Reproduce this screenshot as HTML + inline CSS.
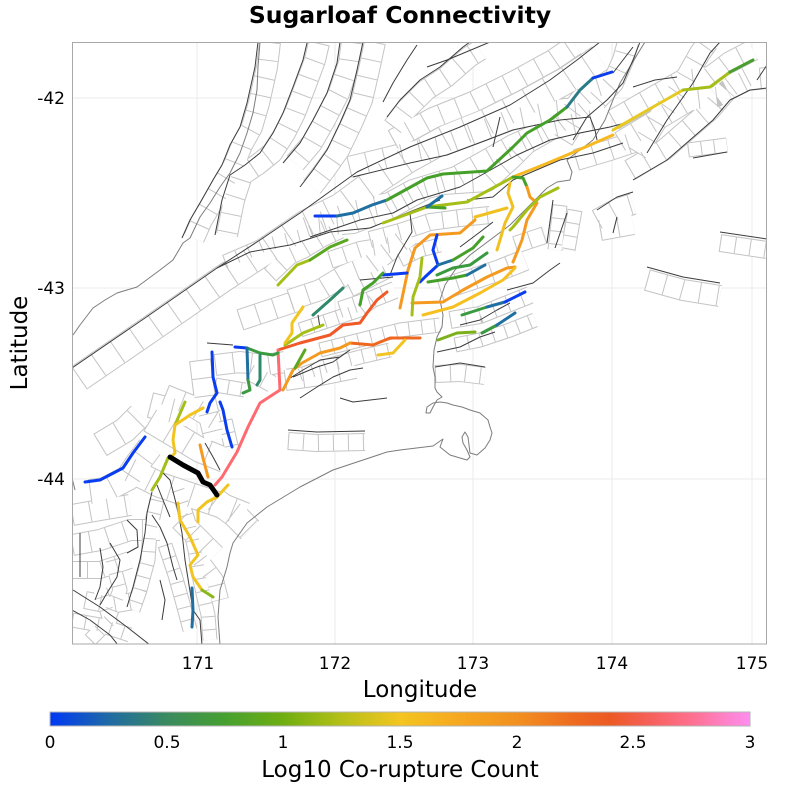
<!DOCTYPE html>
<html><head><meta charset="utf-8"><style>
html,body{margin:0;padding:0;background:#fff;}
svg{display:block;}
text{font-family:"DejaVu Sans","Liberation Sans",sans-serif;fill:#000;}
.lo{fill:none;stroke:#c4c4c4;stroke-linejoin:round;}
.li{fill:none;stroke:#fff;stroke-linejoin:round;}
.lr{fill:none;stroke:#c4c4c4;stroke-linejoin:round;}
.f{fill:none;stroke:#3c3c3c;stroke-width:1;stroke-linejoin:round;}
.cst{fill:none;stroke:#7c7c7c;stroke-width:1;stroke-linejoin:round;}
.c{fill:none;stroke-width:3;stroke-linecap:round;stroke-linejoin:round;}
</style></head><body>
<svg width="800" height="792" viewBox="0 0 800 792" xmlns="http://www.w3.org/2000/svg">
<defs>
<clipPath id="pc"><rect x="72" y="42" width="695" height="602"/></clipPath>
<linearGradient id="cb" x1="0" y1="0" x2="1" y2="0">
<stop offset="0" stop-color="#0038f5"/>
<stop offset="0.083" stop-color="#1f6aa5"/>
<stop offset="0.167" stop-color="#3a8a5f"/>
<stop offset="0.25" stop-color="#46a030"/>
<stop offset="0.333" stop-color="#6fae10"/>
<stop offset="0.417" stop-color="#b5c018"/>
<stop offset="0.5" stop-color="#f4c520"/>
<stop offset="0.583" stop-color="#f6a820"/>
<stop offset="0.667" stop-color="#f29020"/>
<stop offset="0.75" stop-color="#ee6a20"/>
<stop offset="0.8" stop-color="#ec5a24"/>
<stop offset="0.85" stop-color="#f55f55"/>
<stop offset="0.917" stop-color="#ff7090"/>
<stop offset="1" stop-color="#ff8ef0"/>
</linearGradient>
</defs>

<text x="400" y="23" text-anchor="middle" font-size="23.5" font-weight="bold">Sugarloaf Connectivity</text>

<!-- grid -->
<g stroke="#ebebeb" stroke-width="1">
<line x1="197" y1="42" x2="197" y2="644"/><line x1="335" y1="42" x2="335" y2="644"/>
<line x1="473" y1="42" x2="473" y2="644"/><line x1="612" y1="42" x2="612" y2="644"/>
<line x1="752" y1="42" x2="752" y2="644"/>
<line x1="72" y1="98" x2="767" y2="98"/><line x1="72" y1="288" x2="767" y2="288"/>
<line x1="72" y1="479" x2="767" y2="479"/>
</g>

<g clip-path="url(#pc)">
<!-- ===== ladders: outer ===== -->
<g class="lo">
<path stroke-width="28" d="M79,378 L152,328 L224,278 L267,250 L307,223 L340,207 L374,182 L407,160 L447,138 L487,122 L527,102 L567,80 L600,58"/>
<path stroke-width="26" d="M90,492 L105,490 L128,478 L138,463 L150,447 M150,420 L175,435 L200,450 L225,460 M130,470 L160,485 L190,495 L220,505 L245,515 M150,405 L190,415 M100,445 L125,430 L140,415 M215,500 L235,515 L250,530"/>
<path stroke-width="22" d="M270,42 L267,67 L259,103 L252,127 L242,145 L234,165 L225,180 L212,203 L202,220 L194,238 M319,43 L315,60 L305,87 L295,113 L285,133 L272,153 L257,165 L242,175 L234,200 L227,235 M352,42 L349,63 L339,93 L325,120 L312,143 L295,163 M375,42 L369,70 L362,100 L352,123 L339,150 L325,170 L312,187 M393,127 L406,110 L426,90 L446,77 L469,57 L480,50 M349,167 L406,153 L443,145 L483,130 L509,120 L556,110 L586,107 M306,227 L356,210 L389,203 L413,190 L456,177 L483,162 L513,145 L546,130 L576,123 L606,117 M319,226 L353,223 L387,210 L427,188 L443,184 L487,181 L513,157 L527,143 L550,130 L567,117 L580,100 L593,88 L612,82 M393,140 L433,118 L473,102 L513,82 L553,60 L575,45 M613,120 L653,97 L683,80 L710,77 L730,62 L753,50 M620,142 L660,118 L690,100 L717,97 L737,82 L760,70 M637,153 L657,120 L683,83 L700,53 L708,42 M630,170 L664,150 L687,130 L710,110 L727,90 L747,80 L767,78 M563,140 L577,117 L597,100 L613,83 L623,60 L628,42 M647,280 L683,290 L720,296 M597,220 L617,209 L633,204 M600,230 L633,224 M290,300 L320,290 L345,275 L370,265 L390,250 L410,235 M440,290 L470,280 L500,270 L525,260 M240,320 L270,310 L300,300 M200,360 L205,400 L215,440 M215,365 L240,362 L265,365 L285,362 M72,545 L100,540 L130,530 L160,530 M165,395 L190,405 L215,420 M180,520 L200,540 L215,555 M576,160 L610,150 L640,140 M72,515 L100,510 L130,505 M285,380 L320,375 L355,368"/>
<path stroke-width="18" d="M720,243 L767,250 M270,275 L290,256 L303,250 L323,238 L340,230 M450,320 L480,315 L505,305 L530,295 M370,240 L400,232 L430,222 L460,218 L490,215 M330,260 L360,250 L390,245 M288,441 L317,443 L365,442 M72,570 L100,570 L130,560 M85,600 L110,605 L140,600 M435,374 L460,373 L485,376 M250,372 L272,384 M515,245 L545,235 M200,560 L215,580 L220,600 M340,310 L370,300 L395,290"/>
<path stroke-width="15" d="M688,150 L727,145 M560,205 L555,250 M575,210 L568,250 M225,262 L262,246 L300,236 L330,224 M300,330 L330,320 L360,310 L380,295 M320,350 L360,340 L400,330 L440,325 M300,375 L330,365 L360,357 L390,350 M455,345 L480,340 L510,330 L535,320 M400,260 L420,250 L440,245 M350,290 L370,280 L390,270 M215,385 L245,390 M225,420 L232,450 M72,620 L100,625 L130,635 M157,500 L150,530 L148,560 L140,590 L133,610 M178,490 L188,520 L195,550 L200,580 L208,615 L210,640 M165,545 L175,575 L182,600 L190,630 M90,640 L110,620 L100,590 M112,560 L120,590 L110,615"/>
</g>
<!-- inner -->
<g class="li">
<path stroke-width="26" d="M79,378 L152,328 L224,278 L267,250 L307,223 L340,207 L374,182 L407,160 L447,138 L487,122 L527,102 L567,80 L600,58"/>
<path stroke-width="24" d="M90,492 L105,490 L128,478 L138,463 L150,447 M150,420 L175,435 L200,450 L225,460 M130,470 L160,485 L190,495 L220,505 L245,515 M150,405 L190,415 M100,445 L125,430 L140,415 M215,500 L235,515 L250,530"/>
<path stroke-width="20" d="M270,42 L267,67 L259,103 L252,127 L242,145 L234,165 L225,180 L212,203 L202,220 L194,238 M319,43 L315,60 L305,87 L295,113 L285,133 L272,153 L257,165 L242,175 L234,200 L227,235 M352,42 L349,63 L339,93 L325,120 L312,143 L295,163 M375,42 L369,70 L362,100 L352,123 L339,150 L325,170 L312,187 M393,127 L406,110 L426,90 L446,77 L469,57 L480,50 M349,167 L406,153 L443,145 L483,130 L509,120 L556,110 L586,107 M306,227 L356,210 L389,203 L413,190 L456,177 L483,162 L513,145 L546,130 L576,123 L606,117 M319,226 L353,223 L387,210 L427,188 L443,184 L487,181 L513,157 L527,143 L550,130 L567,117 L580,100 L593,88 L612,82 M393,140 L433,118 L473,102 L513,82 L553,60 L575,45 M613,120 L653,97 L683,80 L710,77 L730,62 L753,50 M620,142 L660,118 L690,100 L717,97 L737,82 L760,70 M637,153 L657,120 L683,83 L700,53 L708,42 M630,170 L664,150 L687,130 L710,110 L727,90 L747,80 L767,78 M563,140 L577,117 L597,100 L613,83 L623,60 L628,42 M647,280 L683,290 L720,296 M597,220 L617,209 L633,204 M600,230 L633,224 M290,300 L320,290 L345,275 L370,265 L390,250 L410,235 M440,290 L470,280 L500,270 L525,260 M240,320 L270,310 L300,300 M200,360 L205,400 L215,440 M215,365 L240,362 L265,365 L285,362 M72,545 L100,540 L130,530 L160,530 M165,395 L190,405 L215,420 M180,520 L200,540 L215,555 M576,160 L610,150 L640,140 M72,515 L100,510 L130,505 M285,380 L320,375 L355,368"/>
<path stroke-width="16" d="M720,243 L767,250 M270,275 L290,256 L303,250 L323,238 L340,230 M450,320 L480,315 L505,305 L530,295 M370,240 L400,232 L430,222 L460,218 L490,215 M330,260 L360,250 L390,245 M288,441 L317,443 L365,442 M72,570 L100,570 L130,560 M85,600 L110,605 L140,600 M435,374 L460,373 L485,376 M250,372 L272,384 M515,245 L545,235 M200,560 L215,580 L220,600 M340,310 L370,300 L395,290"/>
<path stroke-width="13" d="M688,150 L727,145 M560,205 L555,250 M575,210 L568,250 M225,262 L262,246 L300,236 L330,224 M300,330 L330,320 L360,310 L380,295 M320,350 L360,340 L400,330 L440,325 M300,375 L330,365 L360,357 L390,350 M455,345 L480,340 L510,330 L535,320 M400,260 L420,250 L440,245 M350,290 L370,280 L390,270 M215,385 L245,390 M225,420 L232,450 M72,620 L100,625 L130,635 M157,500 L150,530 L148,560 L140,590 L133,610 M178,490 L188,520 L195,550 L200,580 L208,615 L210,640 M165,545 L175,575 L182,600 L190,630 M90,640 L110,620 L100,590 M112,560 L120,590 L110,615"/>
</g>
<!-- rungs -->
<g class="lr">
<path stroke-width="26" stroke-dasharray="1 22" d="M79,378 L152,328 L224,278 L267,250 L307,223 L340,207 L374,182 L407,160 L447,138 L487,122 L527,102 L567,80 L600,58"/>
<path stroke-width="24" stroke-dasharray="1 21" d="M90,492 L105,490 L128,478 L138,463 L150,447 M150,420 L175,435 L200,450 L225,460 M130,470 L160,485 L190,495 L220,505 L245,515 M150,405 L190,415 M100,445 L125,430 L140,415 M215,500 L235,515 L250,530"/>
<path stroke-width="20" stroke-dasharray="1 17" d="M270,42 L267,67 L259,103 L252,127 L242,145 L234,165 L225,180 L212,203 L202,220 L194,238 M319,43 L315,60 L305,87 L295,113 L285,133 L272,153 L257,165 L242,175 L234,200 L227,235 M352,42 L349,63 L339,93 L325,120 L312,143 L295,163 M375,42 L369,70 L362,100 L352,123 L339,150 L325,170 L312,187 M393,127 L406,110 L426,90 L446,77 L469,57 L480,50 M349,167 L406,153 L443,145 L483,130 L509,120 L556,110 L586,107 M306,227 L356,210 L389,203 L413,190 L456,177 L483,162 L513,145 L546,130 L576,123 L606,117 M319,226 L353,223 L387,210 L427,188 L443,184 L487,181 L513,157 L527,143 L550,130 L567,117 L580,100 L593,88 L612,82 M393,140 L433,118 L473,102 L513,82 L553,60 L575,45 M613,120 L653,97 L683,80 L710,77 L730,62 L753,50 M620,142 L660,118 L690,100 L717,97 L737,82 L760,70 M637,153 L657,120 L683,83 L700,53 L708,42 M630,170 L664,150 L687,130 L710,110 L727,90 L747,80 L767,78 M563,140 L577,117 L597,100 L613,83 L623,60 L628,42 M647,280 L683,290 L720,296 M597,220 L617,209 L633,204 M600,230 L633,224 M290,300 L320,290 L345,275 L370,265 L390,250 L410,235 M440,290 L470,280 L500,270 L525,260 M240,320 L270,310 L300,300 M200,360 L205,400 L215,440 M215,365 L240,362 L265,365 L285,362 M72,545 L100,540 L130,530 L160,530 M165,395 L190,405 L215,420 M180,520 L200,540 L215,555 M576,160 L610,150 L640,140 M72,515 L100,510 L130,505 M285,380 L320,375 L355,368"/>
<path stroke-width="16" stroke-dasharray="1 14" d="M720,243 L767,250 M270,275 L290,256 L303,250 L323,238 L340,230 M450,320 L480,315 L505,305 L530,295 M370,240 L400,232 L430,222 L460,218 L490,215 M330,260 L360,250 L390,245 M288,441 L317,443 L365,442 M72,570 L100,570 L130,560 M85,600 L110,605 L140,600 M435,374 L460,373 L485,376 M250,372 L272,384 M515,245 L545,235 M200,560 L215,580 L220,600 M340,310 L370,300 L395,290"/>
<path stroke-width="13" stroke-dasharray="1 12" d="M688,150 L727,145 M560,205 L555,250 M575,210 L568,250 M225,262 L262,246 L300,236 L330,224 M300,330 L330,320 L360,310 L380,295 M320,350 L360,340 L400,330 L440,325 M300,375 L330,365 L360,357 L390,350 M455,345 L480,340 L510,330 L535,320 M400,260 L420,250 L440,245 M350,290 L370,280 L390,270 M215,385 L245,390 M225,420 L232,450 M72,620 L100,625 L130,635 M157,500 L150,530 L148,560 L140,590 L133,610 M178,490 L188,520 L195,550 L200,580 L208,615 L210,640 M165,545 L175,575 L182,600 L190,630 M90,640 L110,620 L100,590 M112,560 L120,590 L110,615"/>
</g>

<!-- ===== coastline ===== -->
<path class="cst" d="M73,335 L80,325 L93,308 L105,300 L117,293 L137,287 L160,270 L173,260 L183,243 L190,238 L200,217 L210,203 L220,187 L230,173 L240,153 L247,133 L253,113 L257,90 L258,67 L260,42"/>
<path class="cst" d="M220,645 L218,617 L220,590 L227,567 L230,553 L233,543 L247,523 L267,507 L300,487 L333,470 L387,452 L400,450 L433,446 L443,439 L440,447 L450,455 L460,458 L467,460 L470,457 L467,450 L463,443 L462,437 L465,432 L468,437 L470,453 L477,455 L485,448 L490,440 L492,433 L490,427 L488,420 L480,413 L470,410 L462,407 L453,405 L447,403 L440,402 L433,403 L427,407 L426,413 L430,413 L433,407 L437,400 L442,397 L437,392 L435,388 L435,377 L433,367 L434,350 L437,337 L442,327 L443,315 L440,300 L445,285 L455,270 L470,255 L490,240 L510,225 L530,205 L547,188 L557,182 L570,180 L572,172 L567,160 L580,150 L593,140 L605,120 L613,100 L620,83 L640,50 L645,42"/>
<path class="cst" d="M72,478 L75,490"/>

<!-- ===== dark fault traces ===== -->
<g class="f">
<path d="M72,368 L145,318 L217,268 L260,240 L300,213 L357,172 L410,147 L460,127 L510,105 L550,80 L577,60 L600,42"/>
<path d="M258,42 L255,67 L247,103 L240,127 L230,145 L222,165 L213,180 L200,203 L190,220 L182,238"/>
<path d="M307,43 L303,60 L293,87 L283,113 L273,133 L260,153 L245,165 L230,175 L222,200 L215,235"/>
<path d="M340,42 L337,63 L327,93 L313,120 L300,143 L283,163"/>
<path d="M363,42 L357,70 L350,100 L340,123 L327,150 L313,170 L300,187"/>
<path d="M383,102 L393,83 L407,60 L417,45"/>
<path d="M387,117 L400,100 L420,80 L440,67 L463,47 L470,42"/>
<path d="M427,67 L447,60 L490,42"/>
<path d="M353,177 L410,163 L447,155 L487,140 L513,130 L560,120 L590,117 L595,130 L597,140"/>
<path d="M217,268 L250,252 L290,245 L330,232 L370,228 L407,213 L440,200"/>
<path d="M310,237 L360,220 L393,213 L417,200 L460,187 L487,172 L517,155 L550,140 L580,133 L610,127 L625,123"/>
<path d="M467,200 L493,197 L513,180 L560,160 L593,153 L623,143"/>
<path d="M493,147 L500,117"/>
<path d="M573,140 L587,117 L607,100 L623,83 L633,60 L640,42"/>
<path d="M613,73 L633,47"/>
<path d="M633,87 L655,80 L677,77"/>
<path d="M647,153 L667,120 L693,83 L710,53 L720,42"/>
<path d="M633,180 L667,160 L690,140 L713,120 L730,100 L750,90 L767,88"/>
<path d="M757,80 L767,65"/>
<path d="M597,210 L617,197 L633,192"/>
<path d="M613,233 L617,217"/>
<path d="M647,267 L683,277 L720,283"/>
<path d="M720,232 L767,239"/>
<path d="M693,158 L727,152"/>
<path d="M553,200 L547,243"/>
<path d="M567,213 L555,248"/>
<path d="M410,213 L412,232 L397,257 L390,275"/>
<path d="M360,280 L393,277"/>
<path d="M460,247 L480,232 L493,222"/>
<path d="M507,290 L533,283 L550,270 L560,263"/>
<path d="M460,325 L480,320 L497,310 L510,303"/>
<path d="M437,352 L460,347 L480,337 L495,332"/>
<path d="M435,367 L460,363 L485,367"/>
<path d="M287,380 L303,370 L320,360 L340,357 L350,350"/>
<path d="M300,398 L317,387 L333,377 L350,370 L363,368"/>
<path d="M293,377 L317,367 L333,362 L347,352"/>
<path d="M318,315 L320,328"/>
<path d="M207,343 L233,345"/>
<path d="M340,398 L353,402 L387,398"/>
<path d="M288,430 L317,432 L365,431"/>
<path d="M205,443 L213,457 L220,470"/>
<path d="M152,492 L147,513 L145,533 L140,560 L133,587 L127,607"/>
<path d="M157,485 L163,500 L170,517"/>
<path d="M163,473 L170,480 L177,507 L182,533 L185,560 L193,610 L200,620 L202,645"/>
<path d="M152,515 L160,527 L167,543 L173,567 L177,580"/>
<path d="M127,520 L137,530 L138,547 L127,553"/>
<path d="M110,543 L120,560 L117,577 L107,593 L100,605"/>
<path d="M80,533 L80,577"/>
<path d="M100,548 L103,567 L100,587 L95,600"/>
<path d="M73,590 L100,607 L127,627 L150,645"/>
<path d="M160,580 L165,600 L162,620"/>
<path d="M72,610 L90,620 L110,635 L118,645"/>
</g>

<!-- ===== coloured ruptures ===== -->
<g class="c">
<path stroke="#0a3cf0" d="M315,216 L337,216"/>
<path stroke="#1f6fa0" d="M337,216 L353,213 L372,205 L387,200"/>
<path stroke="#45a02a" d="M387,200 L427,178 L443,174 L487,171 L513,147 L527,133 L550,120 L567,107"/>
<path stroke="#2a7a88" d="M567,107 L580,90 L593,78"/>
<path stroke="#0a3cf0" d="M593,78 L612,72"/>

<path stroke="#a6be18" d="M383,223 L427,207 L467,202 L513,177"/>
<path stroke="#f8b820" d="M513,177 L543,165 L567,155 L613,135"/>
<path stroke="#e6c820" d="M613,130 L653,107 L683,90"/>
<path stroke="#a6be18" d="M683,90 L710,87 L730,72"/>
<path stroke="#4a9e30" d="M730,72 L753,60"/>

<path stroke="#45a02a" d="M427,207 L445,208"/>
<path stroke="#1f6fa0" d="M427,207 L442,196"/>

<path stroke="#a6be18" d="M278,285 L297,265 L310,260"/>
<path stroke="#5aa820" d="M310,260 L330,247 L347,240"/>

<path stroke="#f59a20" d="M400,308 L408,270 L415,248 L430,235 L460,233 L475,220"/>
<path stroke="#f0c020" d="M475,217 L507,208"/>
<path stroke="#f0c020" d="M510,183 L508,193 L513,207 L505,223 L500,240 L497,250"/>
<path stroke="#45a02a" d="M513,177 L523,178 L527,187"/>
<path stroke="#f59a20" d="M527,187 L530,197 L537,203 L527,220 L522,240 L518,250 L513,262"/>
<path stroke="#a6be18" d="M558,188 L540,197 L527,210 L513,227 L510,230"/>

<path stroke="#0a3cf0" d="M437,235 L433,250 L438,265 L425,277 L420,282"/>
<path stroke="#0a3cf0" d="M383,275 L407,273"/>
<path stroke="#1f6fa0" d="M438,265 L453,260"/>
<path stroke="#45a02a" d="M453,260 L473,248 L483,237"/>
<path stroke="#3a9a40" d="M437,275 L453,268 L470,265 L487,253"/>
<path stroke="#45a02a" d="M428,282 L453,278 L467,275"/>
<path stroke="#1f6fa0" d="M467,275 L485,265"/>
<path stroke="#f59a20" d="M412,303 L443,302 L463,290 L487,277 L507,268 L515,267"/>
<path stroke="#f6c020" d="M423,315 L453,307 L480,293 L503,280 L515,268"/>
<path stroke="#a6be18" d="M422,258 L420,277 L413,297 L412,315"/>
<path stroke="#3a9a40" d="M462,315 L487,307"/>
<path stroke="#1f6fa0" d="M487,307 L505,302"/>
<path stroke="#0a3cf0" d="M505,302 L525,292"/>
<path stroke="#3a9a40" d="M482,333 L497,325"/>
<path stroke="#1f6fa0" d="M497,325 L515,313"/>
<path stroke="#7ab018" d="M438,340 L457,333 L475,332"/>

<path stroke="#45a02a" d="M360,305 L363,290 L373,283 L383,273"/>
<path stroke="#f05a28" d="M278,350 L300,343 L330,335 L343,325 L360,323 L367,313 L377,300 L387,292"/>
<path stroke="#ff6a70" d="M278,350 L280,390 L260,403 L248,427 L237,452 L222,477 L215,485"/>
<path stroke="#f06820" d="M350,343 L373,345 L390,338 L420,338"/>
<path stroke="#f2c420" d="M378,355 L393,353 L405,340"/>
<path stroke="#f59a20" d="M283,390 L293,370 L302,363 L320,353 L340,348 L350,343"/>
<path stroke="#5aa820" d="M295,368 L305,350"/>
<path stroke="#a6be18" d="M285,345 L303,333 L323,325"/>
<path stroke="#f2c420" d="M285,343 L292,333 L292,323 L303,307"/>
<path stroke="#2e8a68" d="M313,315 L330,300 L343,288"/>

<path stroke="#0a3cf0" d="M235,347 L247,348"/>
<path stroke="#3a9a40" d="M247,348 L260,353 L273,355 L278,353"/>
<path stroke="#1f6fa0" d="M247,348 L248,380"/>
<path stroke="#3a9a40" d="M248,380 L250,390 L243,393"/>
<path stroke="#2e8a68" d="M260,355 L260,380 L257,385"/>
<path stroke="#0a3cf0" d="M212,352 L213,377 L217,393 L210,403 L207,412"/>
<path stroke="#0a3cf0" d="M220,402 L223,410 L227,430 L232,447"/>

<path stroke="#0a3cf0" d="M85,482 L100,480 L123,468 L133,453 L145,437"/>
<path stroke="#a6be18" d="M185,402 L175,425"/>
<path stroke="#f2c420" d="M175,425 L190,415 L203,408"/>
<path stroke="#f2c420" d="M175,425 L173,440 L175,453 L170,458"/>
<path stroke="#a6be18" d="M168,458 L160,477 L152,490"/>
<path stroke="#f59a20" d="M200,445 L203,458 L208,477"/>
<path stroke="#f2c420" d="M228,485 L217,497 L207,502 L198,510 L198,522"/>
<path stroke="#f2c420" d="M178,503 L180,520 L190,537 L198,555 L190,565 L193,577 L202,590"/>
<path stroke="#8ab818" d="M202,590 L213,597"/>
<path stroke="#1f6fa0" d="M192,588 L193,610 L192,627"/>
<path stroke="#000" stroke-width="5" d="M170,457 L183,465 L198,473 L203,482 L210,485 L217,495"/>
</g>
</g>

<!-- frame -->
<rect x="72.5" y="42.5" width="694" height="601.5" fill="none" stroke="#a8a8a8" stroke-width="1"/>

<!-- tick labels -->
<g font-size="17" text-anchor="end">
<text x="65" y="104">-42</text>
<text x="65" y="294">-43</text>
<text x="65" y="485">-44</text>
</g>
<g font-size="17" text-anchor="middle">
<text x="198" y="669">171</text>
<text x="335" y="669">172</text>
<text x="473" y="669">173</text>
<text x="612" y="669">174</text>
<text x="752" y="669">175</text>
</g>
<text x="420" y="697" font-size="23" text-anchor="middle">Longitude</text>
<text transform="translate(27,343) rotate(-90)" font-size="23" text-anchor="middle">Latitude</text>

<!-- colorbar -->
<rect x="50" y="712" width="700" height="14" fill="url(#cb)" stroke="#b4b4b4" stroke-width="1"/>
<g font-size="17" text-anchor="middle">
<text x="50" y="748">0</text>
<text x="167" y="748">0.5</text>
<text x="283" y="748">1</text>
<text x="400" y="748">1.5</text>
<text x="517" y="748">2</text>
<text x="633" y="748">2.5</text>
<text x="750" y="748">3</text>
</g>
<text x="400" y="777" font-size="23" text-anchor="middle">Log10 Co-rupture Count</text>
</svg>
</body></html>
